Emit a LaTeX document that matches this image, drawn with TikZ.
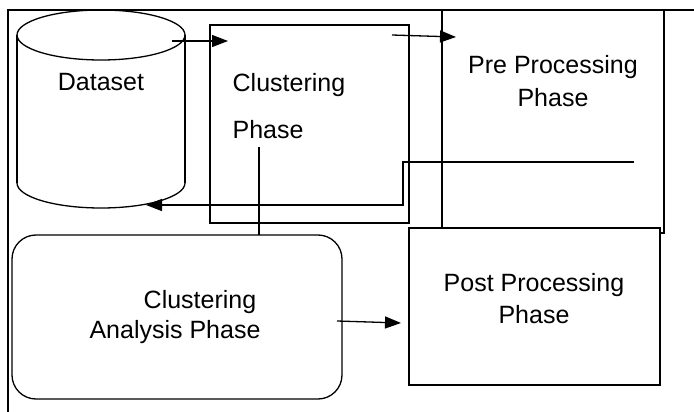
\documentclass[tikz,border=0pt]{standalone}
\usepackage{fontspec}
\setmainfont{Liberation Sans}
\usetikzlibrary{arrows.meta}
\begin{document}
\begin{tikzpicture}[x=1pt,y=-1pt,line width=1.3pt,
  lbl/.style={font=\fontsize{25}{30}\selectfont,inner sep=0pt},
  conn/.style={line width=1.3pt},
  arr/.style={conn,-{Triangle[length=16pt,width=12pt]}},
  box/.style={draw,line width=1.3pt}]
\useasboundingbox (0,0) rectangle (694,412);
% outer frame (top and left only visible)
\draw[line width=1.1pt] (694,10) -- (8,10) -- (8,412);
% Dataset cylinder
\draw (17,35) -- (17,183);
\draw (185,35) -- (185,183);
\draw (185,183) arc[start angle=0,end angle=180,x radius=84,y radius=25];
\draw (101,35) ellipse[x radius=84,y radius=25];
\node[lbl] (dataset) at (101,82) {Dataset};
% Clustering Phase box
\draw[box] (210,25) rectangle (409,223);
\node[lbl,anchor=west] (clus1) at (232,85) {Clustering};
\node[lbl,anchor=west] (clus2) at (232,130) {Phase};
% Pre Processing box
\draw[box] (442,10) rectangle (664,233);
\node[lbl] (pre1) at (553,67) {Pre Processing};
\node[lbl] (pre2) at (553,98) {Phase};
% Post Processing box
\draw[box,fill=white] (409,228) rectangle (660,385);
\node[lbl] (post1) at (534,285) {Post Processing};
\node[lbl] (post2) at (534,315) {Phase};
% Clustering Analysis Phase rounded box
\draw[box,rounded corners=24pt] (12,235) rectangle (342,399);
\node[lbl] (ana1) at (200,302) {Clustering};
\node[lbl] (ana2) at (175,332) {Analysis Phase};
% coordinates for connectors
\coordinate (d1) at (172,41);
\coordinate (c1) at (228,41);
\coordinate (c2) at (392,35);
\coordinate (p1) at (456,37);
\coordinate (fb0) at (634,162);
\coordinate (fb1) at (403,162);
\coordinate (fb2) at (403,205);
\coordinate (dsb) at (146,205);
\coordinate (v0) at (259,147);
\coordinate (v1) at (259,235);
\coordinate (a1) at (337,321);
\coordinate (po) at (401,323);
% connectors
\draw[arr] (d1) -- (c1);
\draw[arr] (c2) -- (p1);
\draw[arr] (fb0) -- (fb1) -- (fb2) -- (dsb);
\draw[conn] (v0) -- (v1);
\draw[arr] (a1) -- (po);
\end{tikzpicture}
\end{document}
